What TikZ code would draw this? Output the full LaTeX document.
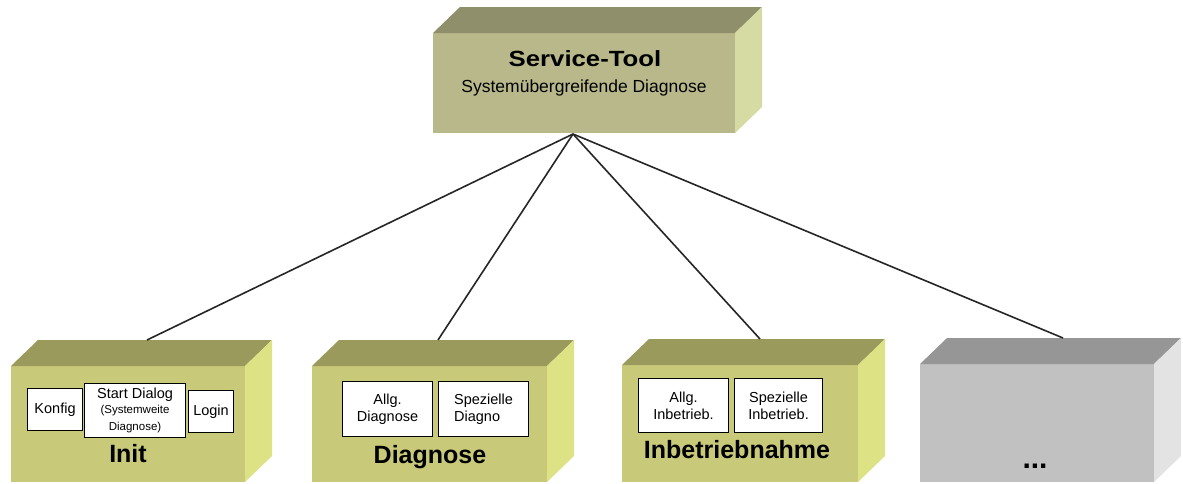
\documentclass[tikz,border=0pt]{standalone}
\usepackage{fontspec}
\usepackage{graphicx}
\setmainfont{Liberation Sans}
\usetikzlibrary{calc}

% face colours of the blocks
\definecolor{toolFront}{RGB}{184,184,138}
\definecolor{toolTop}{RGB}{143,143,107}
\definecolor{toolSide}{RGB}{214,219,163}
\definecolor{modFront}{RGB}{201,201,122}
\definecolor{modTop}{RGB}{154,154,92}
\definecolor{modSide}{RGB}{221,226,132}
\definecolor{greyFront}{RGB}{193,193,193}
\definecolor{greyTop}{RGB}{150,150,150}
\definecolor{greySide}{RGB}{227,227,227}

\tikzset{
  frontface/.style={rectangle, draw=none, inner sep=0pt, outer sep=0pt, anchor=north west},
  subbox/.style={rectangle, draw=black, line width=1.1pt, fill=white, inner sep=0pt,
                 anchor=north west, align=center, font=\fontsize{14.5}{17}\selectfont},
  link/.style={draw=black!85, line width=1.6pt},
  blocklabel/.style={anchor=base, inner sep=0pt, font=\bfseries\fontsize{25}{28}\selectfont},
}

\newcommand\smalltxt{\fontsize{11.5}{13.5}\selectfont}

% a solid block: front face node plus top and right faces
% #1 name, #2 x, #3 y, #4 width, #5 height, #6 front, #7 top, #8 side
\newcommand\solidblock[8]{%
  \node[frontface, fill=#6, minimum width=#4pt, minimum height=#5pt] (#1) at (#2,#3) {};
  \fill[#7] (#1.north west) -- ++(27pt,26pt) -- ($(#1.north east)+(27pt,26pt)$)
            -- (#1.north east) -- cycle;
  \fill[#8] (#1.north east) -- ++(27pt,26pt) -- ($(#1.south east)+(27pt,26pt)$)
            -- (#1.south east) -- cycle;
}

\begin{document}
\begin{tikzpicture}[x=1pt,y=-1pt]
\useasboundingbox[fill=white] (0,0) rectangle (1183,483);

% upper block
\solidblock{tool}{433}{33}{302}{100}{toolFront}{toolTop}{toolSide}
\node[anchor=base, inner sep=0pt, font=\bfseries\fontsize{22}{26}\selectfont] (toolTitle)
  at (585,66) {\scalebox{1.17}[1]{Service-Tool}};
\node[anchor=base, inner sep=0pt, font=\fontsize{17.5}{20}\selectfont] (toolSub)
  at (584,92) {Systemübergreifende Diagnose};

% lower blocks
\solidblock{init}{11}{366}{234}{116}{modFront}{modTop}{modSide}
\solidblock{diag}{312}{366}{235}{116}{modFront}{modTop}{modSide}
\solidblock{inb}{622}{365}{236}{117}{modFront}{modTop}{modSide}
\solidblock{more}{920}{364}{234}{118}{greyFront}{greyTop}{greySide}

% Init contents
\node[subbox, minimum width=55pt, minimum height=42pt] (konfig) at (27,388) {Konfig};
\node[subbox, minimum width=101pt, minimum height=54pt] (start) at (84,383)
  {Start Dialog\\[-2pt]\smalltxt(Systemweite\\\smalltxt Diagnose)};
\node[subbox, minimum width=45pt, minimum height=42pt] (login) at (188,390) {Login};
\node[blocklabel] (initLabel) at (128,462) {Init};

% Diagnose contents
\node[subbox, minimum width=90pt, minimum height=55pt] (allgDiag) at (342,381) {Allg.\\Diagnose};
\node[subbox, minimum width=90pt, minimum height=55pt, align=left] (spezDiag) at (438,381) {Spezielle\\Diagno};
\node[blocklabel] (diagLabel) at (430,463) {Diagnose};

% Inbetriebnahme contents
\node[subbox, minimum width=90pt, minimum height=54pt] (allgInb) at (638,378) {Allg.\\Inbetrieb.};
\node[subbox, minimum width=88pt, minimum height=54pt] (spezInb) at (734,378) {Spezielle\\Inbetrieb.};
\node[blocklabel] (inbLabel) at (737,458) {Inbetriebnahme};

% further modules
\node[blocklabel, font=\bfseries\fontsize{30}{32}\selectfont] (moreLabel) at (1035,468) {...};

% connectors
\coordinate (hub) at (573,134);
\coordinate (initTop) at (147,340);
\coordinate (diagTop) at (438,340);
\coordinate (inbTop) at (760,339);
\coordinate (moreTop) at (1063,338);
\draw[link] (hub) -- (initTop);
\draw[link] (hub) -- (diagTop);
\draw[link] (hub) -- (inbTop);
\draw[link] (hub) -- (moreTop);
\end{tikzpicture}
\end{document}
